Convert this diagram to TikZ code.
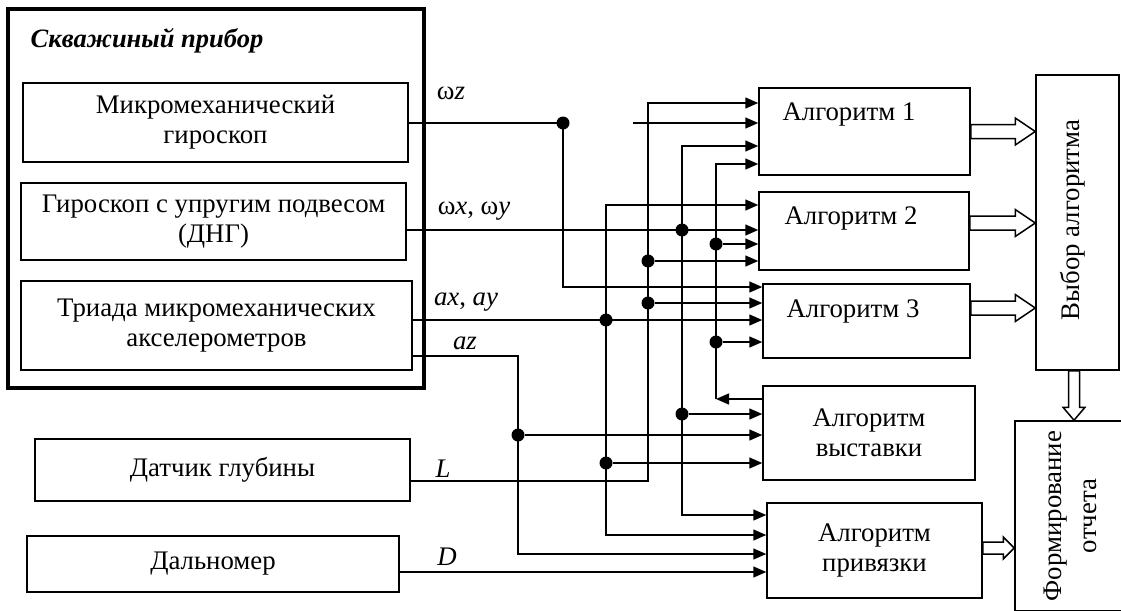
\documentclass[tikz,border=0pt]{standalone}
\usepackage{fontspec}
\setmainfont{Liberation Serif}
\usetikzlibrary{arrows.meta,positioning,calc}

% hollow wide arrows: start, end, shaft half width, head half width, head length
\newcommand{\fatright}[5]{%
  \draw[fatarr] let \p1=#1, \p2=#2 in
    (\x1,\y1+#3) -- (\x2-#5,\y1+#3) -- (\x2-#5,\y1+#4) -- (\x2,\y1)
    -- (\x2-#5,\y1-#4) -- (\x2-#5,\y1-#3) -- (\x1,\y1-#3) -- cycle;}
\newcommand{\fatdown}[5]{%
  \draw[fatarr] let \p1=#1, \p2=#2 in
    (\x1-#3,\y1) -- (\x1-#3,\y2+#5) -- (\x1-#4,\y2+#5) -- (\x1,\y2)
    -- (\x1+#4,\y2+#5) -- (\x1+#3,\y2+#5) -- (\x1+#3,\y1) -- cycle;}

\begin{document}
\begin{tikzpicture}[
  x=1pt, y=-1pt,
  every node/.style={font=\fontsize{26.8}{30}\selectfont},
  box/.style={draw,line width=1.5pt,inner sep=0pt,align=center},
  wire/.style={line width=1.5pt},
  arr/.style={wire,-{Triangle[length=13pt,width=11pt]}},
  dot/.style={circle,fill=black,inner sep=0pt,minimum size=13pt},
  sig/.style={inner sep=0pt},
  fatarr/.style={line width=1.5pt,fill=white},
]
  \useasboundingbox (0,0) rectangle (1121,610);

  % Downhole instrument
  \node[draw,line width=4.5pt,minimum width=416pt,minimum height=379pt] (skv) at (216,198.5) {};
  \node[font=\fontsize{26.5}{30}\selectfont\bfseries\itshape] (skvt) at (147,41) {Скважиный прибор};
  \node[box,minimum width=385pt,minimum height=79pt] (mg) at (215.5,122.5) {Микромеханический\\гироскоп};
  \node[box,minimum width=385pt,minimum height=77pt] (dng) at (213.5,221.5) {Гироскоп с упругим подвесом\\(ДНГ)};
  \node[box,minimum width=391pt,minimum height=89pt] (tri) at (216.5,325.5) {Триада микромеханических\\акселерометров};

  % External sensors
  \node[box,minimum width=375pt,minimum height=62pt] (dat) at (222.5,470) {Датчик глубины};
  \node[box,minimum width=372pt,minimum height=56pt] (dal) at (213,564) {Дальномер};

  % Algorithms
  \node[box,minimum width=211pt,minimum height=87pt] (alg1) at (864.5,131.5) {};
  \node (alg1t) at (849,115) {Алгоритм 1};
  \node[box,minimum width=210pt,minimum height=78pt] (alg2) at (864,231) {};
  \node (alg2t) at (851,218) {Алгоритм 2};
  \node[box,minimum width=207pt,minimum height=74pt] (alg3) at (866.5,321) {};
  \node (alg3t) at (853,311) {Алгоритм 3};
  \node[box,minimum width=212pt,minimum height=94pt] (vyst) at (869,433) {Алгоритм\\выставки};
  \node[box,minimum width=215pt,minimum height=95pt] (priv) at (874.5,550.5) {Алгоритм\\привязки};

  % Selection and report
  \node[box,minimum width=83pt,minimum height=295pt] (vybor) at (1077.5,222.5) {};
  \node[rotate=90] (vybort) at (1073,220) {Выбор алгоритма};
  \node[box,minimum width=110pt,minimum height=190pt] (form) at (1070,516) {};
  \node[rotate=90,align=center] (formt) at (1070,516) {Формирование\\[5pt]отчета};

  % Signal labels
  \node[sig] (lwz) at (451,93) {ω\textit{z}};
  \node[sig] (lwx) at (474,211) {ω\textit{x}, ω\textit{y}};
  \node[sig] (lax) at (466,302) {\textit{ax}, \textit{ay}};
  \node[sig] (laz) at (465,343) {\textit{az}};
  \node[sig] (lL) at (443,469) {\textit{L}};
  \node[sig] (lD) at (447,557) {\textit{D}};

  % Junctions
  \node[dot] (jwz) at (563,123) {};
  \node[dot] (jwx1) at (682,230) {};
  \node[dot] (jfb1) at (716,244) {};
  \node[dot] (jL1) at (648,261) {};
  \node[dot] (jL2) at (648,303) {};
  \node[dot] (jax1) at (606,320) {};
  \node[dot] (jfb2) at (716,342) {};
  \node[dot] (jwx2) at (682,414) {};
  \node[dot] (jaz) at (518,435) {};
  \node[dot] (jax2) at (606,463) {};
  \coordinate (wzgap) at (633,123);
  \coordinate (fbend) at (716,399);

  % omega z
  \draw[wire] (mg.east |- jwz) -- (jwz.center);
  \draw[arr] (jwz.center) |- (alg3.west |- 0,287);
  \draw[arr] (wzgap) -- (alg1.west |- wzgap);

  % omega x, omega y
  \draw[arr] (dng.east |- jwx1) -- (alg2.west |- jwx1);
  \draw[arr] (jwx1.center) |- (alg1.west |- 0,146);
  \draw[arr] (jwx1.center) |- (priv.west |- 0,515);
  \draw[arr] (jwx2) -- (vyst.west |- jwx2);

  % ax, ay
  \draw[arr] (tri.east |- jax1) -- (alg3.west |- jax1);
  \draw[arr] (jax1.center) |- (alg2.west |- 0,205);
  \draw[arr] (jax1.center) |- (priv.west |- 0,535);
  \draw[arr] (jax2) -- (vyst.west |- jax2);

  % az
  \draw[arr] (tri.east |- 0,356) -| (jaz.center) |- (priv.west |- 0,554);
  \draw[arr] (jaz) -- (vyst.west |- jaz);

  % depth L
  \draw[arr] (dat.east |- 0,481) -| (jL2.center) |- (alg1.west |- 0,103);
  \draw[arr] (jL1) -- (alg2.west |- jL1);
  \draw[arr] (jL2) -- (alg3.west |- jL2);

  % alignment feedback
  \draw[arr] (vyst.west |- fbend) -- (fbend);
  \draw[arr] (fbend) |- (alg1.west |- 0,164);
  \draw[arr] (jfb1) -- (alg2.west |- jfb1);
  \draw[arr] (jfb2) -- (alg3.west |- jfb2);

  % range D
  \draw[arr] (dal.east |- 0,572) -- (priv.west |- 0,572);

  % wide arrows
  \fatright{(alg1.east)}{(vybor.west)}{7}{13.5}{20}
  \fatright{([yshift=8pt]alg2.east)}{(vybor.west)}{7}{13.5}{20}
  \fatright{([yshift=13pt]alg3.east)}{(vybor.west)}{7}{13.5}{20}
  \fatright{([yshift=2.5pt]priv.east)}{(form.west)}{6}{11}{11}
  \fatdown{([xshift=-3.5pt]vybor.south)}{(form.north)}{5.5}{11}{13}
\end{tikzpicture}
\end{document}
